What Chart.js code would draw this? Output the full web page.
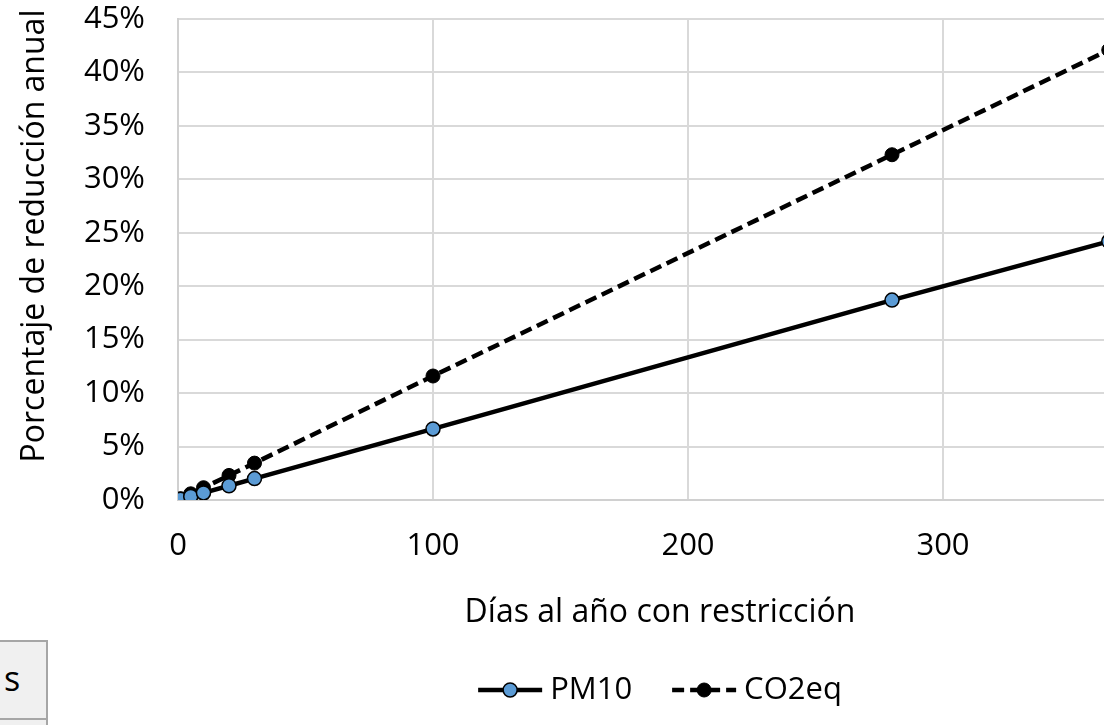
<!DOCTYPE html>
<html>
<head>
<meta charset="utf-8">
<script src="https://cdn.jsdelivr.net/npm/chart.js@4.4.1/dist/chart.umd.min.js"></script>
<style>
  html, body { margin: 0; padding: 0; background: #fff; overflow: hidden; }
  #wrap { position: relative; width: 1104px; height: 725px; overflow: hidden; }
  #c { position: absolute; left: 0; top: 0; }
  .tab { position: absolute; left: -20px; width: 68px; background: #f0f0f0; border: 2px solid #a6a6a6;
         font-family: 'Open Sans', sans-serif; font-size: 34px; color: #000; box-sizing: border-box; }
</style>
</head>
<body>
<div id="wrap">
  <canvas id="c" width="1240" height="725"></canvas>
  <div class="tab" style="top:640px;height:80px;line-height:72px;padding-left:22px;">s</div>
  <div class="tab" style="top:718px;height:30px;"></div>
</div>
<script>
var dias = [1, 5, 10, 20, 30, 100, 280, 365];
var pm10 = [0.07, 0.33, 0.66, 1.33, 2.0, 6.65, 18.7, 24.2];
var co2eq = [0.12, 0.58, 1.15, 2.3, 3.45, 11.6, 32.3, 42.1];
var xTicks = [0, 100, 200, 300, 400];
var yTicks = [0, 5, 10, 15, 20, 25, 30, 35, 40, 45];

var FONT = "'Open Sans', sans-serif";

function pts(ys) {
    return dias.map(function (d, i) { return { x: d, y: ys[i] }; });
}

// titulos y leyenda dibujados a mano para ubicarlos como en Excel
var extras = {
    id: 'extras',
    afterDraw: function (chart) {
        var ctx = chart.ctx;
        ctx.save();
        ctx.fillStyle = '#000';
        ctx.font = '32px ' + FONT;
        ctx.textAlign = 'center';
        ctx.textBaseline = 'middle';
        ctx.fillText('Días al año con restricción', 660, 613);
        ctx.save();
        ctx.translate(35, 236);
        ctx.rotate(-Math.PI / 2);
        ctx.fillText('Porcentaje de reducción anual', 0, 0);
        ctx.restore();

        // leyenda
        ctx.font = '31px ' + FONT;
        var ds = chart.data.datasets;
        var lineW = 64, gap = 8, between = 40;
        ctx.textAlign = 'left';
        var total = 0;
        ds.forEach(function (d, i) {
            total += lineW + gap + ctx.measureText(d.label).width + (i ? between : 0);
        });
        var x = 660 - total / 2, y = 690;
        ds.forEach(function (d, i) {
            if (i) x += between;
            ctx.save();
            ctx.strokeStyle = d.borderColor;
            ctx.lineWidth = d.borderWidth;
            ctx.setLineDash(d.borderDash || []);
            ctx.beginPath();
            ctx.moveTo(x, y);
            ctx.lineTo(x + lineW, y);
            ctx.stroke();
            ctx.setLineDash([]);
            ctx.beginPath();
            ctx.arc(x + lineW / 2, y, d.pointRadius, 0, Math.PI * 2);
            ctx.fillStyle = d.pointBackgroundColor;
            ctx.fill();
            ctx.lineWidth = d.pointBorderWidth;
            ctx.strokeStyle = d.pointBorderColor;
            ctx.stroke();
            ctx.restore();
            x += lineW + gap;
            ctx.fillText(d.label, x, y);
            x += ctx.measureText(d.label).width;
        });
        ctx.restore();
    }
};

new Chart(document.getElementById('c'), {
    type: 'line',
    data: {
        datasets: [{
            label: 'PM10',
            data: pts(pm10),
            borderColor: '#000',
            borderWidth: 4.5,
            pointRadius: 7,
            pointBackgroundColor: '#5b9bd5',
            pointBorderColor: '#000',
            pointBorderWidth: 1.5
        }, {
            label: 'CO2eq',
            data: pts(co2eq),
            borderColor: '#000',
            borderWidth: 4.5,
            borderDash: [12, 6],
            pointRadius: 7,
            pointBackgroundColor: '#000',
            pointBorderColor: '#000',
            pointBorderWidth: 1
        }]
    },
    options: {
        responsive: false,
        animation: false,
        layout: { padding: { top: 19, right: 42, bottom: 0, left: 0 } },
        plugins: { legend: { display: false }, tooltip: { enabled: false } },
        scales: {
            x: {
                type: 'linear',
                min: 0,
                max: 400,
                afterBuildTicks: function (s) { s.ticks = xTicks.map(function (v) { return { value: v }; }); },
                afterFit: function (s) { s.height = 225; s.paddingLeft = 0; s.paddingRight = 0; },
                grid: { color: '#d9d9d9', lineWidth: 2, drawTicks: false },
                border: { color: '#d0d0d0', width: 2 },
                ticks: { padding: 28, color: '#000', font: { family: FONT, size: 31 } }
            },
            y: {
                min: 0,
                max: 45,
                afterBuildTicks: function (s) { s.ticks = yTicks.map(function (v) { return { value: v }; }); },
                afterFit: function (s) { s.width = 178; s.paddingTop = 0; s.paddingBottom = 0; },
                grid: { color: '#d9d9d9', lineWidth: 2, drawTicks: false },
                border: { color: '#d0d0d0', width: 2 },
                ticks: {
                    padding: 33,
                    color: '#000',
                    font: { family: FONT, size: 31 },
                    callback: function (v) { return v + '%'; }
                }
            }
        }
    },
    plugins: [extras]
});
</script>
</body>
</html>
